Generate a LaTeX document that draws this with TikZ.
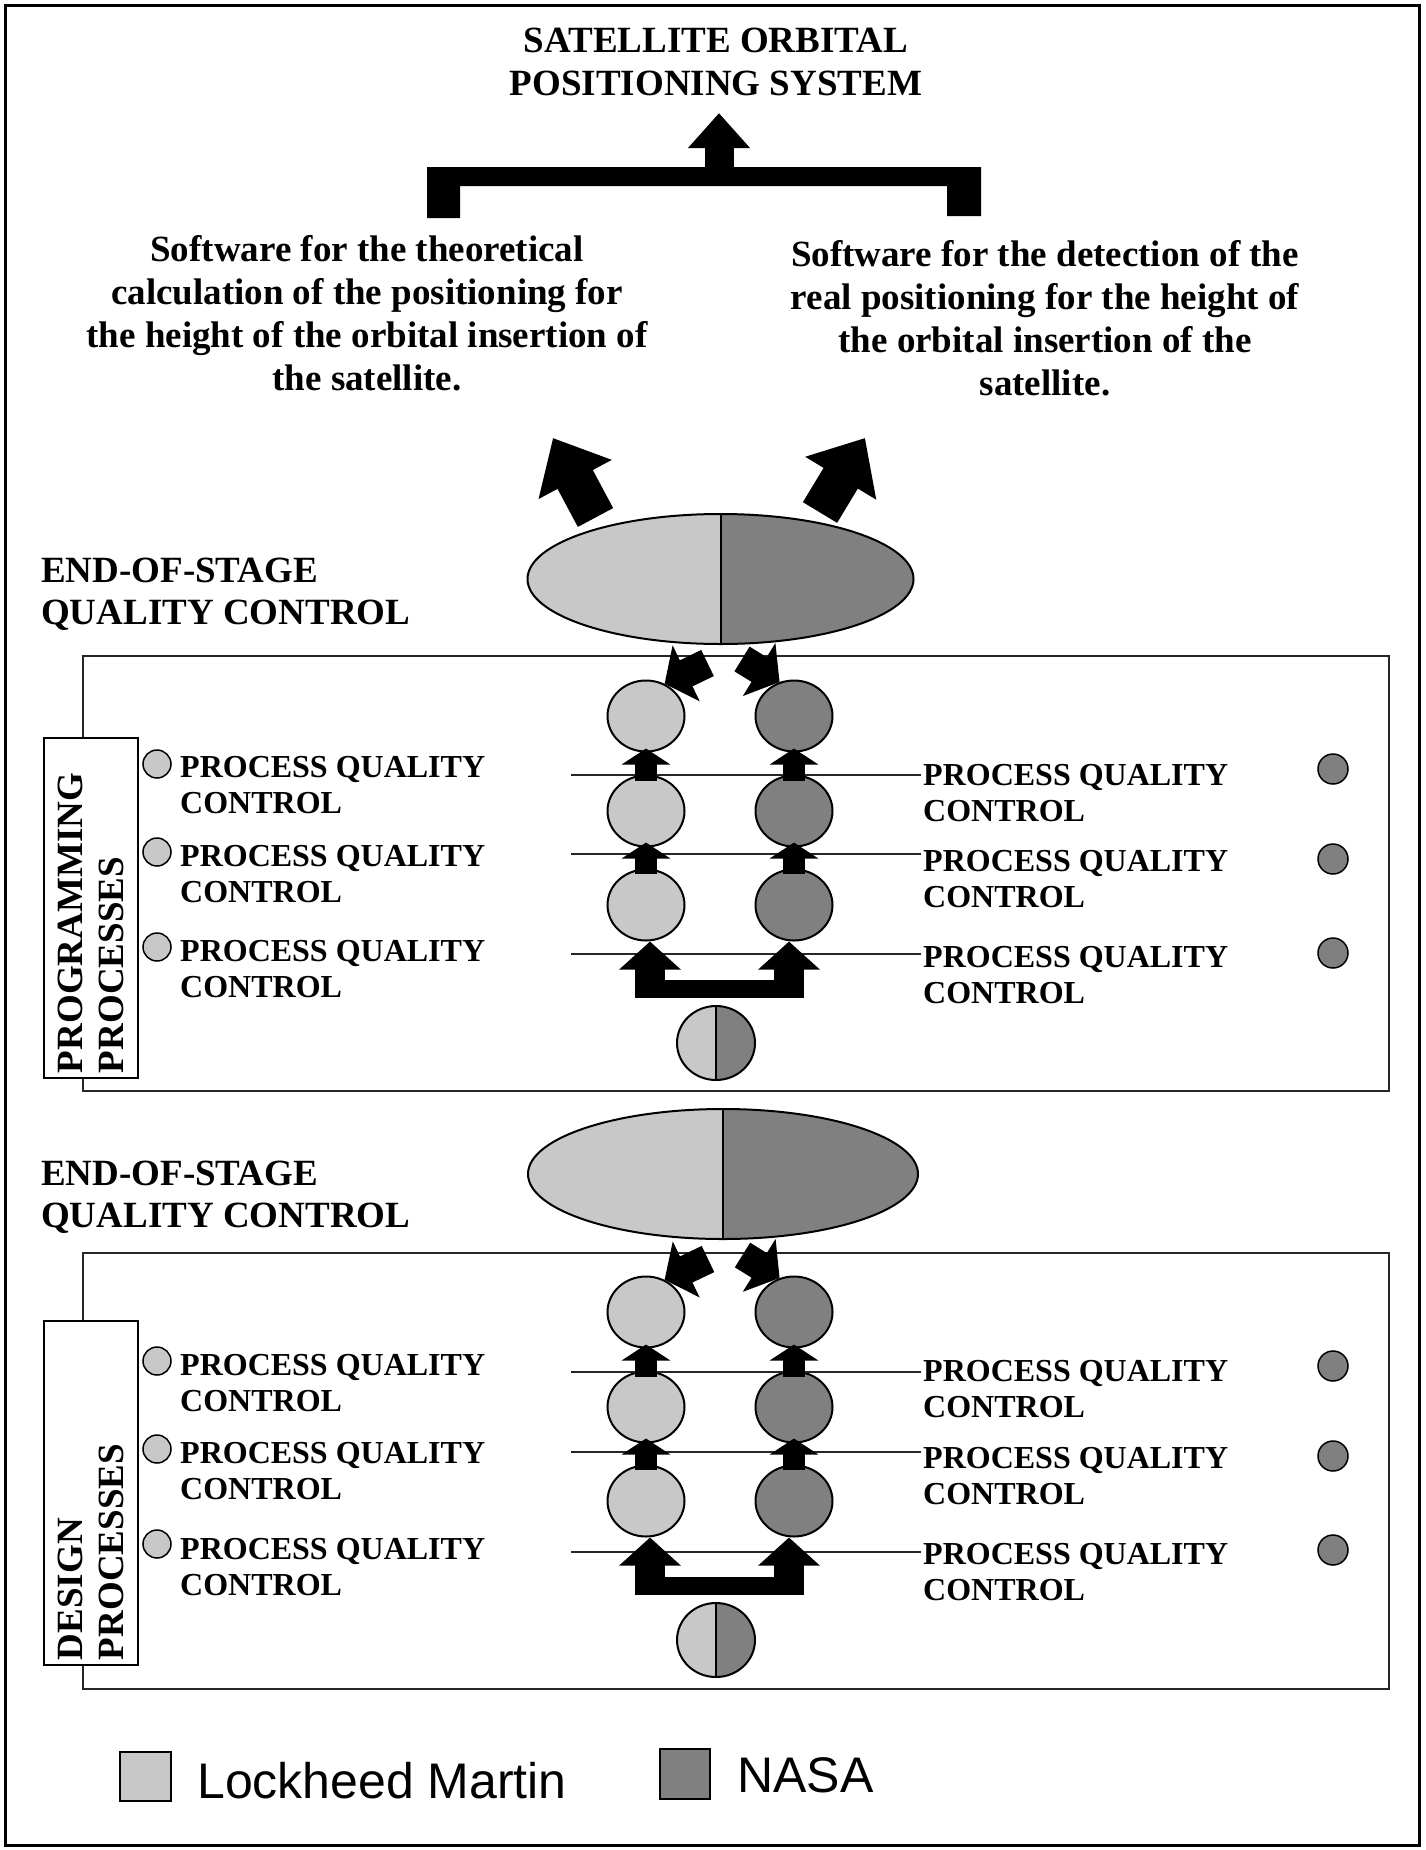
\documentclass[tikz,border=0pt]{standalone}
\usepackage{fontspec}
\setmainfont{Liberation Serif}
\newfontfamily\keyfont{Liberation Sans}
\usetikzlibrary{arrows.meta,shapes.geometric}
\definecolor{lmgray}{RGB}{200,200,200}
\definecolor{nasagray}{RGB}{128,128,128}

\begin{document}
\begin{tikzpicture}[x=1pt,y=-1pt]
	\tikzstyle{head-text}=[font=\fontsize{37}{43}\selectfont\bfseries, align=center, inner sep=0pt]
	\tikzstyle{eos-text}=[font=\fontsize{37}{42}\selectfont\bfseries, align=left, anchor=west, inner sep=0pt]
	\tikzstyle{pq-text}=[font=\fontsize{32}{36}\selectfont\bfseries, align=left, anchor=west, inner sep=2pt]
	\tikzstyle{side-box}=[draw, fill=white, line width=2pt, rotate=90, minimum height=94pt, text width=330pt, inner sep=5pt, align=left, font=\fontsize{37}{41}\selectfont\bfseries]
	\tikzstyle{box-line}=[line width=2.5pt, draw=black!85]
	\tikzstyle{lm-node}=[ellipse, draw, fill=lmgray, line width=2pt, minimum width=77pt, minimum height=71pt, inner sep=0pt]
	\tikzstyle{na-node}=[lm-node, fill=nasagray]
	\tikzstyle{lm-dot}=[circle, draw, fill=lmgray, line width=1.5pt, minimum size=28pt, inner sep=0pt]
	\tikzstyle{na-dot}=[lm-dot, fill=nasagray, minimum size=30pt]
	\tikzstyle{split-node}=[ellipse, draw, line width=2pt, inner sep=0pt, path picture={
		\fill[lmgray] (path picture bounding box.south west) rectangle (path picture bounding box.north);
		\fill[nasagray] (path picture bounding box.south east) rectangle (path picture bounding box.north);
		\draw[line width=2pt] (path picture bounding box.south) -- (path picture bounding box.north);}]
	\tikzstyle{pq-line}=[line width=2pt, draw=black!85]
	\tikzstyle{fat-arrow}=[line width=40pt, -{Triangle[width=80pt,length=47pt]}]
	\tikzstyle{mid-arrow}=[line width=29pt, -{Triangle[width=61pt,length=24pt]}]
	\tikzstyle{small-arrow}=[line width=22pt, -{Triangle[width=48pt,length=16pt]}]
	\tikzstyle{u-arrow}=[line width=30pt, -{Triangle[width=60pt,length=28pt]}]

	\useasboundingbox (0,0) rectangle (1426,1850);
	\draw[line width=3pt] (5.5,5.5) rectangle (1419,1845);

	% goal and the two programs
	\node[head-text] (sys)     at (716,62)   {SATELLITE ORBITAL\\POSITIONING SYSTEM};
	\node[head-text] (sw-theo) at (367,313)  {Software for the theoretical\\calculation of the positioning for\\the height of the orbital insertion of\\the satellite.};
	\node[head-text] (sw-real) at (1045,318) {Software for the detection of the\\real positioning for the height of\\the orbital insertion of the\\satellite.};
	\fill (427,218) -- (427,167) -- (981,167) -- (981,216) -- (947,216) -- (947,186) -- (460,186) -- (460,218) -- cycle;
	\coordinate (br-mid) at (719,168);
	\draw[line width=29pt, -{Triangle[width=60pt,length=35pt]}, shorten >=17pt] (br-mid) -- (br-mid |- sys.south);

	% programming processes
	\node[eos-text] (eos-a) at (41,594) {END-OF-STAGE\\QUALITY CONTROL};
	\node[split-node, minimum width=386pt, minimum height=130pt] (qc-a) at (720.5,579) {};
	\draw[box-line] (83,656) rectangle (1389,1091);
	\node[side-box] (side-a) at (91,908) {PROGRAMMING\\PROCESSES};

	\node[lm-node] (lc1-a) at (646,716) {};
	\node[lm-node] (lc2-a) at (646,811) {};
	\node[lm-node] (lc3-a) at (646,905) {};
	\node[na-node] (rc1-a) at (794,716) {};
	\node[na-node] (rc2-a) at (794,811) {};
	\node[na-node] (rc3-a) at (794,905) {};
	\node[split-node, minimum width=78pt, minimum height=74pt] (src-a) at (716,1043) {};

	\node[lm-dot] (ld1-a) at (157,764) {};
	\node[lm-dot] (ld2-a) at (157,852) {};
	\node[lm-dot] (ld3-a) at (157,947) {};
	\node[pq-text] (lq1-a) at (178,785.5) {PROCESS QUALITY\\CONTROL};
	\node[pq-text] (lq2-a) at (178,874)   {PROCESS QUALITY\\CONTROL};
	\node[pq-text] (lq3-a) at (178,969.5) {PROCESS QUALITY\\CONTROL};
	\node[pq-text] (rq1-a) at (921,793)   {PROCESS QUALITY\\CONTROL};
	\node[pq-text] (rq2-a) at (921,879)   {PROCESS QUALITY\\CONTROL};
	\node[pq-text] (rq3-a) at (921,975)   {PROCESS QUALITY\\CONTROL};
	\node[na-dot] (rd1-a) at (1333,769) {};
	\node[na-dot] (rd2-a) at (1333,859) {};
	\node[na-dot] (rd3-a) at (1333,953) {};

	\coordinate (ln1-a) at (571,775);
	\coordinate (ln2-a) at (571,854);
	\coordinate (ln3-a) at (571,954);
	\draw[pq-line] (ln1-a) -- (ln1-a -| rq1-a.west);
	\draw[pq-line] (ln2-a) -- (ln2-a -| rq2-a.west);
	\draw[pq-line] (ln3-a) -- (ln3-a -| rq3-a.west);

	\draw[small-arrow] ([yshift=-6pt]lc2-a.north) -- ([yshift=4pt]lc1-a.south);
	\draw[small-arrow] ([yshift=-5pt]lc3-a.north) -- ([yshift=5pt]lc2-a.south);
	\draw[small-arrow] ([yshift=-6pt]rc2-a.north) -- ([yshift=4pt]rc1-a.south);
	\draw[small-arrow] ([yshift=-5pt]rc3-a.north) -- ([yshift=5pt]rc2-a.south);
	\fill (635,980) rectangle (804,998);
	\coordinate (ua-a) at (650,998);
	\coordinate (ub-a) at (789,998);
	\draw[u-arrow] (ua-a) -- (ua-a |- lc3-a.south);
	\draw[u-arrow] (ub-a) -- (ub-a |- rc3-a.south);
	\draw[mid-arrow] ([shift={(-13,84)}]qc-a.center) -- (lc1-a.60);
	\draw[mid-arrow] ([shift={(21.5,80)}]qc-a.center) -- (rc1-a.113);
	\draw[fat-arrow] ([shift={(-125,-61.5)}]qc-a.center) -- ++(-42.5,-79.5);
	\draw[fat-arrow] ([shift={(99.5,-66.5)}]qc-a.center) -- ++(45,-74.5);

	% design processes
	\begin{scope}[shift={(0,596)}]
	\node[eos-text] (eos-b) at (41,601.5) {END-OF-STAGE\\QUALITY CONTROL};
	\node[split-node, minimum width=390pt, minimum height=130pt] (qc-b) at (723,578) {};
	\draw[box-line] (83,657) rectangle (1389,1093);
	\node[side-box, text width=334pt] (side-b) at (91,897) {DESIGN\\PROCESSES};

	\node[lm-node] (lc1-b) at (646,716) {};
	\node[lm-node] (lc2-b) at (646,811) {};
	\node[lm-node] (lc3-b) at (646,905) {};
	\node[na-node] (rc1-b) at (794,716) {};
	\node[na-node] (rc2-b) at (794,811) {};
	\node[na-node] (rc3-b) at (794,905) {};
	\node[split-node, minimum width=78pt, minimum height=74pt] (src-b) at (716,1044) {};

	\node[lm-dot] (ld1-b) at (157,765) {};
	\node[lm-dot] (ld2-b) at (157,853) {};
	\node[lm-dot] (ld3-b) at (157,948) {};
	\node[pq-text] (lq1-b) at (178,787) {PROCESS QUALITY\\CONTROL};
	\node[pq-text] (lq2-b) at (178,875) {PROCESS QUALITY\\CONTROL};
	\node[pq-text] (lq3-b) at (178,971) {PROCESS QUALITY\\CONTROL};
	\node[pq-text] (rq1-b) at (921,793) {PROCESS QUALITY\\CONTROL};
	\node[pq-text] (rq2-b) at (921,880) {PROCESS QUALITY\\CONTROL};
	\node[pq-text] (rq3-b) at (921,976) {PROCESS QUALITY\\CONTROL};
	\node[na-dot] (rd1-b) at (1333,770) {};
	\node[na-dot] (rd2-b) at (1333,860) {};
	\node[na-dot] (rd3-b) at (1333,954) {};

	\coordinate (ln1-b) at (571,776);
	\coordinate (ln2-b) at (571,856);
	\coordinate (ln3-b) at (571,956);
	\draw[pq-line] (ln1-b) -- (ln1-b -| rq1-b.west);
	\draw[pq-line] (ln2-b) -- (ln2-b -| rq2-b.west);
	\draw[pq-line] (ln3-b) -- (ln3-b -| rq3-b.west);

	\draw[small-arrow] ([yshift=-6pt]lc2-b.north) -- ([yshift=4pt]lc1-b.south);
	\draw[small-arrow] ([yshift=-5pt]lc3-b.north) -- ([yshift=5pt]lc2-b.south);
	\draw[small-arrow] ([yshift=-6pt]rc2-b.north) -- ([yshift=4pt]rc1-b.south);
	\draw[small-arrow] ([yshift=-5pt]rc3-b.north) -- ([yshift=5pt]rc2-b.south);
	\fill (635,981) rectangle (804,999);
	\coordinate (ua-b) at (650,999);
	\coordinate (ub-b) at (789,999);
	\draw[u-arrow] (ua-b) -- (ua-b |- lc3-b.south);
	\draw[u-arrow] (ub-b) -- (ub-b |- rc3-b.south);
	\draw[mid-arrow] ([shift={(-15,85)}]qc-b.center) -- (lc1-b.60);
	\draw[mid-arrow] ([shift={(19.5,81)}]qc-b.center) -- (rc1-b.113);
	\end{scope}

	% key
	\node[draw, fill=lmgray, line width=2pt, minimum width=51pt, minimum height=49pt, inner sep=0pt] (key-lm) at (145.5,1776.5) {};
	\node[draw, fill=nasagray, line width=2pt, minimum width=50pt, minimum height=50pt, inner sep=0pt] (key-na) at (685,1774) {};
	\node[anchor=west, inner sep=0pt, font=\keyfont\fontsize{50}{60}\selectfont] (key-lm-txt) at (197,1781) {Lockheed Martin};
	\node[anchor=west, inner sep=0pt, font=\keyfont\fontsize{50}{60}\selectfont] (key-na-txt) at (737,1775) {NASA};
\end{tikzpicture}
\end{document}
